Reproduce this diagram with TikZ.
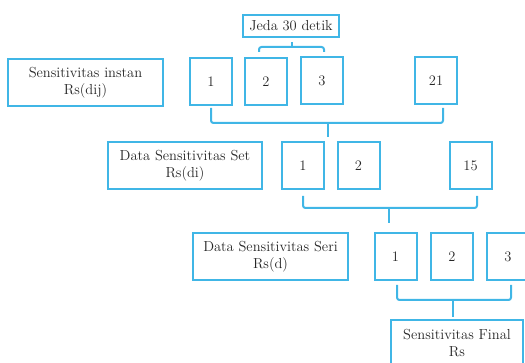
\documentclass[tikz,border=0pt]{standalone}
\usetikzlibrary{calc}
\definecolor{cblue}{RGB}{64,182,230}
\tikzset{
  box/.style={draw=cblue, line width=2pt, rectangle, inner sep=0pt, align=center,
    font=\fontsize{14.5}{17}\selectfont, text=black!85},
  numbox/.style={box, minimum width=42pt, minimum height=47pt},
  labbox/.style={box, minimum width=155pt, minimum height=47pt},
  brk/.style={draw=cblue, line width=2pt, rounded corners=2.5pt},
}
\begin{document}
\begin{tikzpicture}[x=1pt,y=-1pt]
\useasboundingbox (0,0) rectangle (525,363);
\clip (0,0) rectangle (525,363);
% top
\node[box, minimum width=96pt, minimum height=22pt] (jeda) at (291,26) {Jeda 30 detik};
% row 1
\node[labbox] (l1) at (85.5,82.5) {Sensitivitas instan\\Rs(dij)};
\node[numbox] (a1) at (211,81.5) {1};
\node[numbox] (a2) at (266,81.5) {2};
\node[numbox] (a3) at (322,80.5) {3};
\node[numbox] (a21) at (436,80.5) {21};
% row 2
\node[labbox, minimum width=154pt] (l2) at (185,165.5) {Data Sensitivitas Set\\Rs(di)};
\node[numbox] (b1) at (303,165.5) {1};
\node[numbox] (b2) at (358.5,165.5) {2};
\node[numbox] (b15) at (470.5,165.5) {15};
% row 3
\node[labbox] (l3) at (270.5,256.5) {Data Sensitivitas Seri\\Rs(d)};
\node[numbox] (c1) at (395.5,256.5) {1};
\node[numbox] (c2) at (452,256.5) {2};
\node[numbox] (c3) at (508,256.5) {3};
% final
\node[box, minimum width=132pt, minimum height=47pt] (fin) at (457,343.5) {Sensitivitas Final\\Rs};
% bracket jeda
\coordinate (j1) at (259,52);
\coordinate (j2) at (324,52);
\coordinate (jm) at (292,47);
\draw[brk] (j1) |- (jm) -| (j2);
\draw[brk] (jm) -- (292,42);
% bracket row1
\coordinate (p1) at (211,108);
\coordinate (p2) at (443,108);
\coordinate (pm) at (328,123);
\draw[brk] (p1) |- (pm) -| (p2);
\draw[brk] (pm) -- (328,137);
% bracket row2
\coordinate (q1) at (303,196);
\coordinate (q2) at (477,196);
\coordinate (qm) at (389,208);
\draw[brk] (q1) |- (qm) -| (q2);
\draw[brk] (qm) -- (389,223);
% bracket row3
\coordinate (r1) at (397,285);
\coordinate (r2) at (511,285);
\coordinate (rm) at (453,300);
\draw[brk] (r1) |- (rm) -| (r2);
\draw[brk] (rm) -- (453,317);
\end{tikzpicture}
\end{document}
